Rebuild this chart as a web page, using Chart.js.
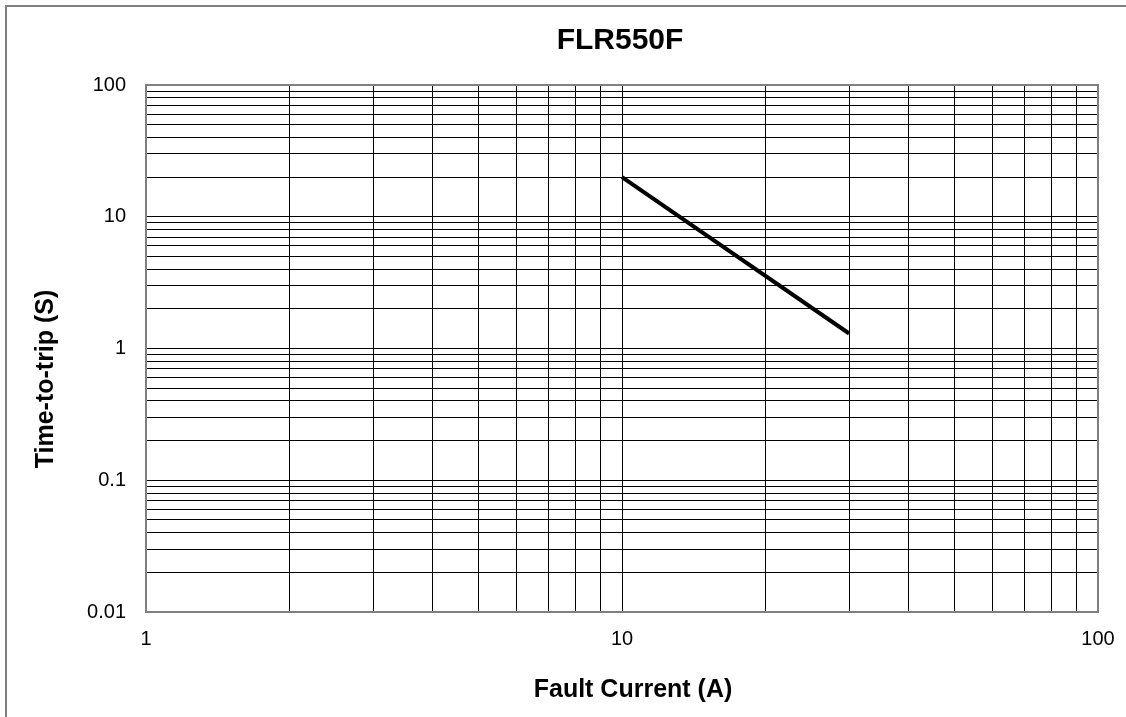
<!DOCTYPE html>
<html>
<head>
<meta charset="utf-8">
<script src="https://cdn.jsdelivr.net/npm/chart.js@4/dist/chart.umd.min.js"></script>
<style>
  html, body { margin: 0; padding: 0; background: #fff; }
  #wrap { width: 1126px; height: 717px; }
</style>
</head>
<body>
<div id="wrap"><canvas id="myChart" width="1126" height="717"></canvas></div>
<script>
// data
let faultCurrent = [10, 30];
let tripTime = [20, 1.3];

let xTickLabels = [1, 10, 100];
let yTickLabels = [0.01, 0.1, 1, 10, 100];

let chartTitle = "FLR550F";
let xTitle = "Fault Current (A)";
let yTitle = "Time-to-trip (S)";

let fontFamily = "'Liberation Sans', Arial, sans-serif";

// grid lines at 1..9 of every decade
function decadeGrid(labels){
    let vals = [];
    for (let i = 0; i < labels.length - 1; i++) {
        for (let m = 1; m < 10; m++) {
            vals.push(Number((labels[i] * m).toPrecision(6)));
        }
    }
    vals.push(labels[labels.length - 1]);
    return vals;
}

function isLabel(list, v){
    return list.some(l => Math.abs(l - v) / l < 1e-6);
}

let points = faultCurrent.map((x, i) => ({x: x, y: tripTime[i]}));

let textPlugin = {
    id: "textPlugin",
    afterDraw(chart){
        let ctx = chart.ctx;
        let area = chart.chartArea;
        ctx.save();
        // plot border
        ctx.strokeStyle = "#808080";
        ctx.lineWidth = 2;
        ctx.strokeRect(area.left, area.top, area.right - area.left, area.bottom - area.top);
        // outer frame (left and top only are visible)
        ctx.beginPath();
        ctx.moveTo(6, 717);
        ctx.lineTo(6, 6);
        ctx.lineTo(1126, 6);
        ctx.stroke();

        ctx.fillStyle = "#000";
        ctx.textAlign = "center";
        ctx.textBaseline = "alphabetic";
        ctx.font = "bold 30px " + fontFamily;
        ctx.fillText(chartTitle, 620, 49);

        ctx.font = "bold 25px " + fontFamily;
        ctx.fillText(xTitle, 633, 697);

        ctx.translate(53, 379);
        ctx.rotate(-Math.PI / 2);
        ctx.fillText(yTitle, 0, 0);
        ctx.restore();
    }
};

let canvas = document.getElementById("myChart");
let ctx = canvas.getContext("2d");

let myChart = new Chart(ctx, {
    type: "scatter",
    data: {
        datasets: [{
            label: "FLR550F",
            data: points,
            showLine: true,
            borderColor: "#000",
            borderWidth: 4,
            pointRadius: 0,
            fill: false
        }]
    },
    options: {
        responsive: false,
        animation: false,
        layout: {
            padding: {top: 85, left: 0, right: 28, bottom: 0}
        },
        plugins: {
            legend: {display: false},
            title: {display: false},
            tooltip: {enabled: false}
        },
        scales: {
            x: {
                type: "logarithmic",
                min: 1,
                max: 100,
                afterBuildTicks: scale => {
                    scale.ticks = decadeGrid(xTickLabels).map(v => ({value: v}));
                },
                afterFit: scale => {
                    scale.height = 105;
                    scale.paddingLeft = 0;
                    scale.paddingRight = 0;
                },
                grid: {color: "#000", lineWidth: 1, drawTicks: false},
                border: {display: false},
                ticks: {
                    autoSkip: false,
                    maxRotation: 0,
                    padding: 15,
                    color: "#000",
                    font: {family: fontFamily, size: 20},
                    callback: v => isLabel(xTickLabels, v) ? String(v) : ""
                }
            },
            y: {
                type: "logarithmic",
                min: 0.01,
                max: 100,
                afterBuildTicks: scale => {
                    scale.ticks = decadeGrid(yTickLabels).map(v => ({value: v}));
                },
                afterFit: scale => {
                    scale.width = 146;
                    scale.paddingTop = 0;
                    scale.paddingBottom = 0;
                },
                grid: {color: "#000", lineWidth: 1, drawTicks: false},
                border: {display: false},
                ticks: {
                    autoSkip: false,
                    padding: 20,
                    color: "#000",
                    font: {family: fontFamily, size: 20},
                    callback: v => isLabel(yTickLabels, v) ? String(v) : ""
                }
            }
        }
    },
    plugins: [textPlugin]
});
</script>
</body>
</html>
